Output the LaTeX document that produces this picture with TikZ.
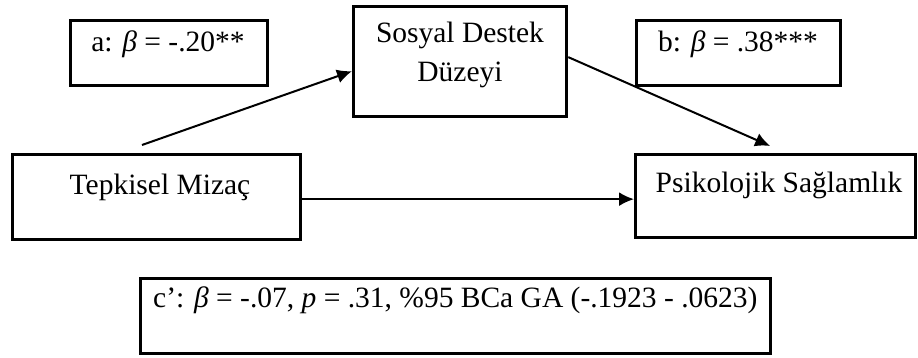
\documentclass[tikz,border=0pt]{standalone}
\usepackage{fontspec}
\setmainfont{Liberation Serif}
\usetikzlibrary{arrows.meta}
\begin{document}
\begin{tikzpicture}[x=1pt,y=-1pt,
 box/.style={draw,line width=3.3pt,inner sep=0pt,anchor=north west},
 lbl/.style={anchor=base,inner sep=0pt,font=\fontsize{29.5}{35}\selectfont},
 arr/.style={line width=2pt,-{Latex[length=15pt,width=14pt]}}]
\useasboundingbox (0,0) rectangle (918,358);
\node[box,minimum width=197pt,minimum height=65pt] (ba) at (69,19) {};
\node[box,minimum width=213pt,minimum height=110pt] (sd) at (352,5) {};
\node[box,minimum width=204pt,minimum height=65pt] (bb) at (635,19) {};
\node[box,minimum width=288pt,minimum height=85pt] (tm) at (11,153) {};
\node[box,minimum width=280pt,minimum height=83pt] (pk) at (634,153) {};
\node[box,minimum width=630pt,minimum height=75pt] (cp) at (139,277) {};
\node[lbl] (ta) at (168,52) {a: \textit{β} = -.20**};
\node[lbl] (tb) at (738,52) {b: \textit{β} = .38***};
\node[lbl] (ts1) at (460,43) {Sosyal Destek};
\node[lbl] (ts2) at (460,82) {Düzeyi};
\node[lbl] (tt) at (160,195) {Tepkisel Mizaç};
\node[lbl] (tp) at (779,193) {Psikolojik Sağlamlık};
\node[lbl,anchor=base west] (tc) at (153,307) {c’: \textit{β} = -.07, \textit{p} = .31, \%95 BCa GA (-.1923 - .0623)};
\coordinate (a0) at (142,145);
\draw[arr] (a0) -- ([yshift=-9.5pt]sd.west);
\draw[arr] ([yshift=4.5pt]sd.east) -- ([xshift=-5.5pt,yshift=7pt]pk.north);
\draw[arr] ([yshift=-2pt]tm.east) -- ([yshift=-2pt]tm.east -| pk.west);
\end{tikzpicture}
\end{document}
